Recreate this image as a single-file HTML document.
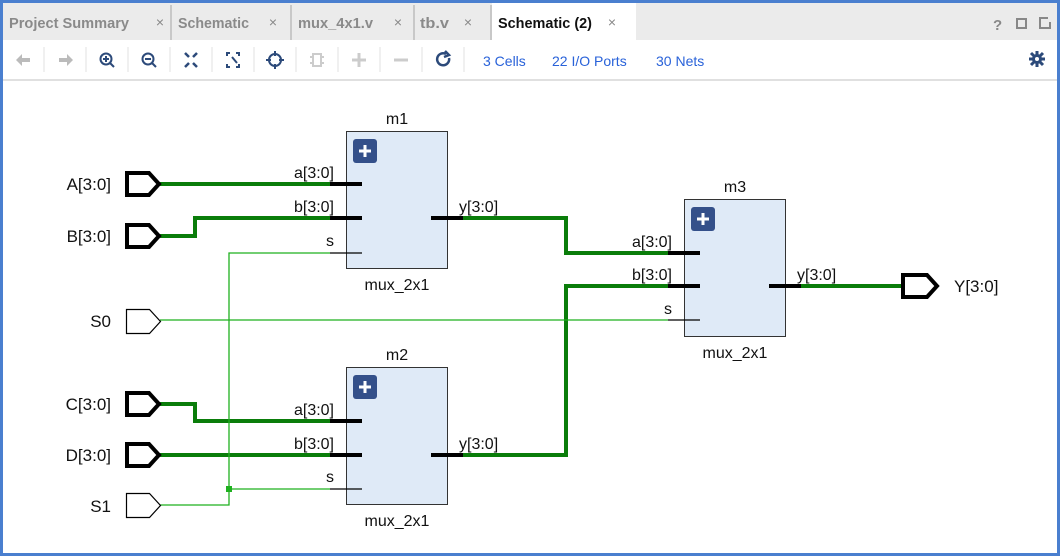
<!DOCTYPE html>
<html><head><meta charset="utf-8"><style>
html,body{margin:0;padding:0;width:1060px;height:556px;overflow:hidden;background:#4a7fcf;font-family:"Liberation Sans",sans-serif}
#w{position:absolute;left:3px;top:3px;width:1054px;height:550px;background:#fff}
</style></head><body><div id="w"></div>
<svg width="1060" height="556" style="position:absolute;left:0;top:0" font-family="Liberation Sans, sans-serif">
<rect x="3" y="3" width="1054" height="37" fill="#ebebeb"/>
<rect x="492" y="3" width="144" height="37" fill="#fff"/>
<g stroke="#c8c8c8" stroke-width="2"><line x1="171" y1="5" x2="171" y2="40"/><line x1="291" y1="5" x2="291" y2="40"/><line x1="414" y1="5" x2="414" y2="40"/><line x1="491" y1="5" x2="491" y2="40"/></g>
<g font-size="15" font-weight="bold" fill="#8a8a8a">
<text x="9" y="28" textLength="120" lengthAdjust="spacingAndGlyphs">Project Summary</text>
<text x="178" y="28" textLength="71" lengthAdjust="spacingAndGlyphs">Schematic</text>
<text x="298" y="28" textLength="75" lengthAdjust="spacingAndGlyphs">mux_4x1.v</text>
<text x="420" y="28" textLength="29" lengthAdjust="spacingAndGlyphs">tb.v</text>
<text x="498" y="28" fill="#111" textLength="94" lengthAdjust="spacingAndGlyphs">Schematic (2)</text></g>
<g font-size="14" fill="#888" text-anchor="middle"><text x="160" y="27">×</text><text x="273" y="27">×</text><text x="398" y="27">×</text><text x="468" y="27">×</text><text x="612" y="27">×</text></g>
<g fill="none" stroke="#888" stroke-width="2"><rect x="1017" y="19" width="9" height="9"/><path d="M1048 18h-8v10h10v-6"/></g>
<text x="993" y="30" font-size="15" font-weight="bold" fill="#888">?</text>
<line x1="3" y1="80" x2="1057" y2="80" stroke="#e0e0e0" stroke-width="2"/>
<g stroke="#e2e2e2"><line x1="44" y1="47" x2="44" y2="72"/><line x1="86" y1="47" x2="86" y2="72"/><line x1="128" y1="47" x2="128" y2="72"/><line x1="170" y1="47" x2="170" y2="72"/><line x1="212" y1="47" x2="212" y2="72"/><line x1="254" y1="47" x2="254" y2="72"/><line x1="296" y1="47" x2="296" y2="72"/><line x1="338" y1="47" x2="338" y2="72"/><line x1="380" y1="47" x2="380" y2="72"/><line x1="422" y1="47" x2="422" y2="72"/><line x1="464" y1="47" x2="464" y2="72"/></g>
<g fill="#bbb"><path d="M16 60l6-6v4h8v4h-8v4z"/><path d="M73 60l-6-6v4h-8v4h8v4z"/></g>
<g fill="none" stroke="#2c4a7a" stroke-width="2"><circle cx="106" cy="59" r="5.5"/><line x1="110" y1="63" x2="114" y2="67"/><path d="M103 59h6M106 56v6"/>
<circle cx="148" cy="59" r="5.5"/><line x1="152" y1="63" x2="156" y2="67"/><path d="M145 59h6"/>
<path d="M185 53l4 4M197 53l-4 4M185 67l4-4M197 67l-4-4" stroke-width="2.5"/>
<path d="M227 56v-3h3M239 56v-3h-3M227 64v3h3M239 64v3h-3M232 57l5 6"/>
<circle cx="275" cy="60" r="6"/><path d="M275 51v5M275 64v5M266 60h5M279 60h5"/>
<path d="M446 54a6 6 0 1 0 3 4M445 51l4 4-5 2" stroke-width="2.5"/></g>
<g fill="none" stroke="#ccc" stroke-width="2"><rect x="313" y="54" width="8" height="12"/><path d="M310 57h3M310 63h3M321 57h3M321 63h3"/><path d="M352 60h14M359 53v14" stroke-width="3"/><path d="M394 60h14" stroke-width="3"/></g>
<g font-size="14" fill="#2962d9"><text x="483" y="66">3 Cells</text><text x="552" y="66">22 I/O Ports</text><text x="656" y="66">30 Nets</text></g>
<g fill="#2c4a7a"><circle cx="1037" cy="59" r="5"/><g stroke="#2c4a7a" stroke-width="3"><path d="M1037 51v16M1029 59h16M1031 53l12 12M1043 53l-12 12"/></g><circle cx="1037" cy="59" r="2" fill="#fff"/></g>
<g fill="#dfeaf7" stroke="#333" stroke-width="1"><rect x="346.5" y="131.5" width="101" height="137"/><rect x="346.5" y="367.5" width="101" height="137"/><rect x="684.5" y="199.5" width="101" height="137"/></g>
<g fill="#34508a"><rect x="353" y="139" width="24" height="24" rx="3"/><rect x="353" y="375" width="24" height="24" rx="3"/><rect x="691" y="207" width="24" height="24" rx="3"/></g>
<g stroke="#fff" stroke-width="3"><path d="M359 151h12M365 145v12M359 387h12M365 381v12M697 219h12M703 213v12"/></g>
<g fill="none" stroke="#0a7d0a" stroke-width="4">
<path d="M160 184H330M160 236H195V218H330M463 218H566V253H668M463 455H566V286H668M769 286H902M160 404H195V421H330M160 455H330"/></g>
<g fill="none" stroke="#1fb01f" stroke-width="1.3"><path d="M160 320H668M330 253H229V505H160M229 489H330"/></g>
<rect x="226" y="486" width="6" height="6" fill="#1fb01f"/>
<g stroke="#000" stroke-width="4"><path d="M330 184h32M330 218h32M431 218h32M330 421h32M330 455h32M431 455h32M668 253h32M668 286h32M769 286h32"/></g>
<g stroke="#000" stroke-width="1.2"><path d="M330 253h32M330 489h32M668 320h32"/></g>
<g fill="#fff" stroke="#000" stroke-width="4"><path d="M127 173h22l10 11-10 11h-22z"/><path d="M127 225h22l10 11-10 11h-22z"/><path d="M127 393h22l10 11-10 11h-22z"/><path d="M127 444h22l10 11-10 11h-22z"/><path d="M903 275h24l10 11-10 11h-24z"/></g>
<g fill="#fff" stroke="#000" stroke-width="1.2"><path d="M126.5 309.5h23l11 12-11 12h-23z"/><path d="M126.5 493.5h23l11 12-11 12h-23z"/></g>
<g font-size="17" fill="#111">
<text x="111" y="190" text-anchor="end">A[3:0]</text><text x="111" y="242" text-anchor="end">B[3:0]</text><text x="111" y="327" text-anchor="end">S0</text><text x="111" y="410" text-anchor="end">C[3:0]</text><text x="111" y="461" text-anchor="end">D[3:0]</text><text x="111" y="512" text-anchor="end">S1</text><text x="954" y="292">Y[3:0]</text></g>
<g font-size="16" fill="#111">
<text x="397" y="124" text-anchor="middle">m1</text><text x="397" y="360" text-anchor="middle">m2</text><text x="735" y="192" text-anchor="middle">m3</text>
<text x="397" y="290" text-anchor="middle">mux_2x1</text><text x="397" y="526" text-anchor="middle">mux_2x1</text><text x="735" y="358" text-anchor="middle">mux_2x1</text>
<text x="334" y="178" text-anchor="end">a[3:0]</text><text x="334" y="212" text-anchor="end">b[3:0]</text><text x="334" y="246" text-anchor="end">s</text>
<text x="334" y="415" text-anchor="end">a[3:0]</text><text x="334" y="449" text-anchor="end">b[3:0]</text><text x="334" y="482" text-anchor="end">s</text>
<text x="672" y="247" text-anchor="end">a[3:0]</text><text x="672" y="280" text-anchor="end">b[3:0]</text><text x="672" y="314" text-anchor="end">s</text>
<text x="459" y="212">y[3:0]</text><text x="459" y="449">y[3:0]</text><text x="797" y="280">y[3:0]</text>
</g>
</svg></body></html>
